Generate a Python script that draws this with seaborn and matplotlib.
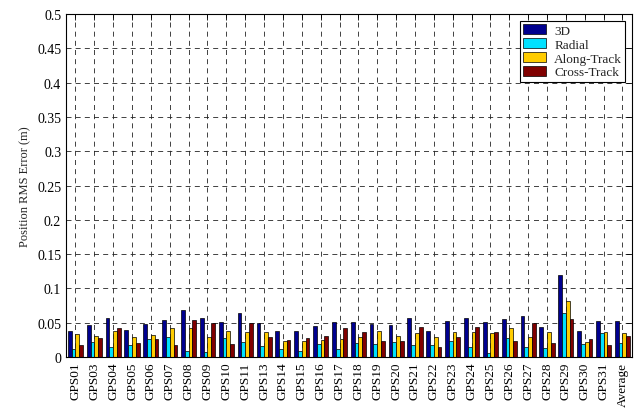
import matplotlib
matplotlib.use('Agg')
import matplotlib.pyplot as plt
import numpy as np
import pandas as pd
import seaborn as sns

# satellites + average
sats = ['GPS01', 'GPS03', 'GPS04', 'GPS05', 'GPS06', 'GPS07', 'GPS08', 'GPS09',
        'GPS10', 'GPS11', 'GPS13', 'GPS14', 'GPS15', 'GPS16', 'GPS17', 'GPS18',
        'GPS19', 'GPS20', 'GPS21', 'GPS22', 'GPS23', 'GPS24', 'GPS25', 'GPS26',
        'GPS27', 'GPS28', 'GPS29', 'GPS30', 'GPS31', 'Average']

err_3d = [0.038, 0.047, 0.057, 0.040, 0.048, 0.054, 0.068, 0.057, 0.051, 0.064,
          0.049, 0.038, 0.038, 0.045, 0.051, 0.051, 0.048, 0.046, 0.057, 0.038,
          0.053, 0.057, 0.051, 0.056, 0.060, 0.044, 0.120, 0.038, 0.053, 0.053]
err_radial = [0.011, 0.022, 0.015, 0.017, 0.026, 0.029, 0.009, 0.008, 0.027, 0.022,
              0.016, 0.012, 0.009, 0.019, 0.011, 0.020, 0.019, 0.022, 0.017, 0.017,
              0.023, 0.015, 0.006, 0.027, 0.015, 0.013, 0.064, 0.019, 0.035, 0.020]
err_along = [0.033, 0.030, 0.038, 0.029, 0.032, 0.043, 0.042, 0.029, 0.038, 0.036,
             0.036, 0.023, 0.023, 0.025, 0.026, 0.029, 0.038, 0.031, 0.035, 0.029,
             0.036, 0.036, 0.035, 0.042, 0.029, 0.036, 0.082, 0.022, 0.036, 0.035]
err_cross = [0.017, 0.027, 0.042, 0.020, 0.026, 0.017, 0.054, 0.049, 0.019, 0.049,
             0.029, 0.025, 0.027, 0.030, 0.042, 0.036, 0.024, 0.024, 0.044, 0.015,
             0.029, 0.044, 0.036, 0.023, 0.049, 0.020, 0.056, 0.026, 0.017, 0.031]

components = ['3D', 'Radial', 'Along-Track', 'Cross-Track']
colors = ['#00008F', '#00E0FF', '#FFCC00', '#800000']

sns.set_style('white')
plt.rcParams['font.family'] = ['Liberation Serif', 'DejaVu Serif']

rows = []
for name, vals in zip(components, [err_3d, err_radial, err_along, err_cross]):
    for s, v in zip(sats, vals):
        rows.append({'sat': s, 'comp': name, 'val': v})
df = pd.DataFrame(rows)

fig = plt.figure(figsize=(6.37, 4.10), dpi=100)
ax = fig.add_axes([0.1036, 0.1268, 0.8884, 0.8366])

sns.barplot(data=df, x='sat', y='val', hue='comp', hue_order=components,
            palette=colors, saturation=1, edgecolor='black', linewidth=0.5,
            width=0.8, gap=0, ax=ax)

ax.set_ylim(0, 0.5)
ax.set_xlim(-0.5, len(sats) - 0.5)
ax.set_yticks(np.arange(0, 0.51, 0.05))
ax.set_yticklabels(['0', '0.05', '0.1', '0.15', '0.2', '0.25', '0.3', '0.35',
                    '0.4', '0.45', '0.5'])
ax.set_xticks(range(len(sats)))
ax.set_xticklabels(sats, rotation=90)
ax.set_xlabel('')
ax.set_ylabel('Position RMS Error (m)', fontsize=9)
ax.tick_params(axis='both', direction='in', length=4, width=0.6,
               labelsize=9.5, top=True, right=True, colors='black')
ax.tick_params(axis='y', labelsize=10)

ax.grid(True, color='#222222', linestyle=(0, (6, 5)), linewidth=0.6)
ax.set_axisbelow(True)
for sp in ax.spines.values():
    sp.set_color('black')
    sp.set_linewidth(0.8)

leg = ax.legend(loc='upper right', fontsize=9.5, frameon=True, fancybox=False,
                framealpha=1, edgecolor='black', borderpad=0.25,
                handlelength=1.75, handleheight=0.85, labelspacing=0.08,
                handletextpad=0.6, borderaxespad=0.5)
leg.get_frame().set_linewidth(0.8)

fig.savefig('out.png', dpi=100)
